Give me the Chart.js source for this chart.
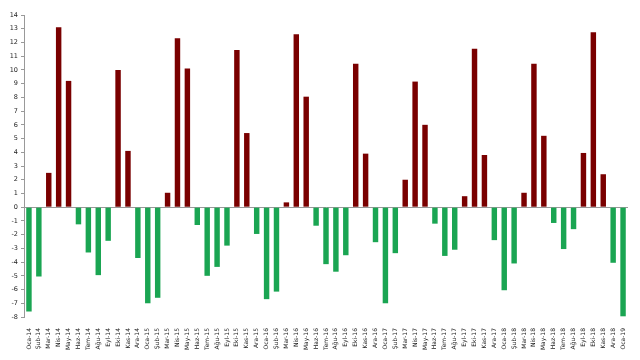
<!DOCTYPE html>
<html>
<head>
<meta charset="utf-8">
<script src="https://cdn.jsdelivr.net/npm/chart.js@4/dist/chart.umd.min.js"></script>
<style>
html,body{margin:0;padding:0;background:#fff;}
#c{display:block;}
</style>
</head>
<body>
<canvas id="c" width="640" height="360"></canvas>
<script>
const months = ['Oca','Şub','Mar','Nis','May','Haz','Tem','Ağu','Eyl','Eki','Kas','Ara'];
const categories = [];
for (let y = 14; y <= 18; y++) for (const m of months) categories.push(m + '-' + y);
categories.push('Oca-19');

const values = [
  -7.6, -5.05, 2.5, 13.1, 9.2, -1.25, -3.3, -4.95, -2.45, 10.0, 4.1, -3.7,
  -7.0, -6.6, 1.05, 12.3, 10.1, -1.3, -5.0, -4.35, -2.8, 11.45, 5.4, -1.95,
  -6.7, -6.15, 0.35, 12.6, 8.05, -1.35, -4.15, -4.7, -3.5, 10.45, 3.9, -2.55,
  -7.0, -3.35, 2.0, 9.15, 6.0, -1.2, -3.55, -3.1, 0.8, 11.55, 3.8, -2.4,
  -6.05, -4.1, 1.05, 10.45, 5.2, -1.15, -3.05, -1.6, 3.95, 12.75, 2.4, -4.05,
  -7.95
];

const yTicks = { min: -8, max: 14, step: 1 };
const posColor = '#7a0000';
const negColor = '#1aa552';

new Chart(document.getElementById('c'), {
  type: 'bar',
  data: {
    labels: categories,
    datasets: [{
      data: values,
      backgroundColor: values.map(v => v >= 0 ? posColor : negColor),
      borderWidth: 0,
      categoryPercentage: 1,
      barPercentage: 0.55
    }]
  },
  options: {
    responsive: false,
    animation: false,
    layout: { padding: { top: 15, right: 12, left: 0, bottom: 0 } },
    plugins: { legend: { display: false }, tooltip: { enabled: false } },
    scales: {
      x: {
        grid: { display: false },
        border: { display: false },
        ticks: {
          autoSkip: false, minRotation: 90, maxRotation: 90,
          color: '#222', padding: 3,
          font: { family: 'DejaVu Sans', size: 6 }
        },
        afterFit: s => { s.height = 43; }
      },
      y: {
        min: yTicks.min, max: yTicks.max,
        ticks: {
          stepSize: yTicks.step, color: '#222', padding: 3,
          font: { family: 'DejaVu Sans', size: 6.5 }
        },
        grid: {
          color: c => (c.tick && c.tick.value === 0) ? '#999' : 'rgba(0,0,0,0)',
          tickColor: '#999', tickLength: 3, lineWidth: 1
        },
        border: { display: true, color: '#999' },
        afterFit: s => { s.width = 24; }
      }
    }
  }
});
</script>
</body>
</html>
